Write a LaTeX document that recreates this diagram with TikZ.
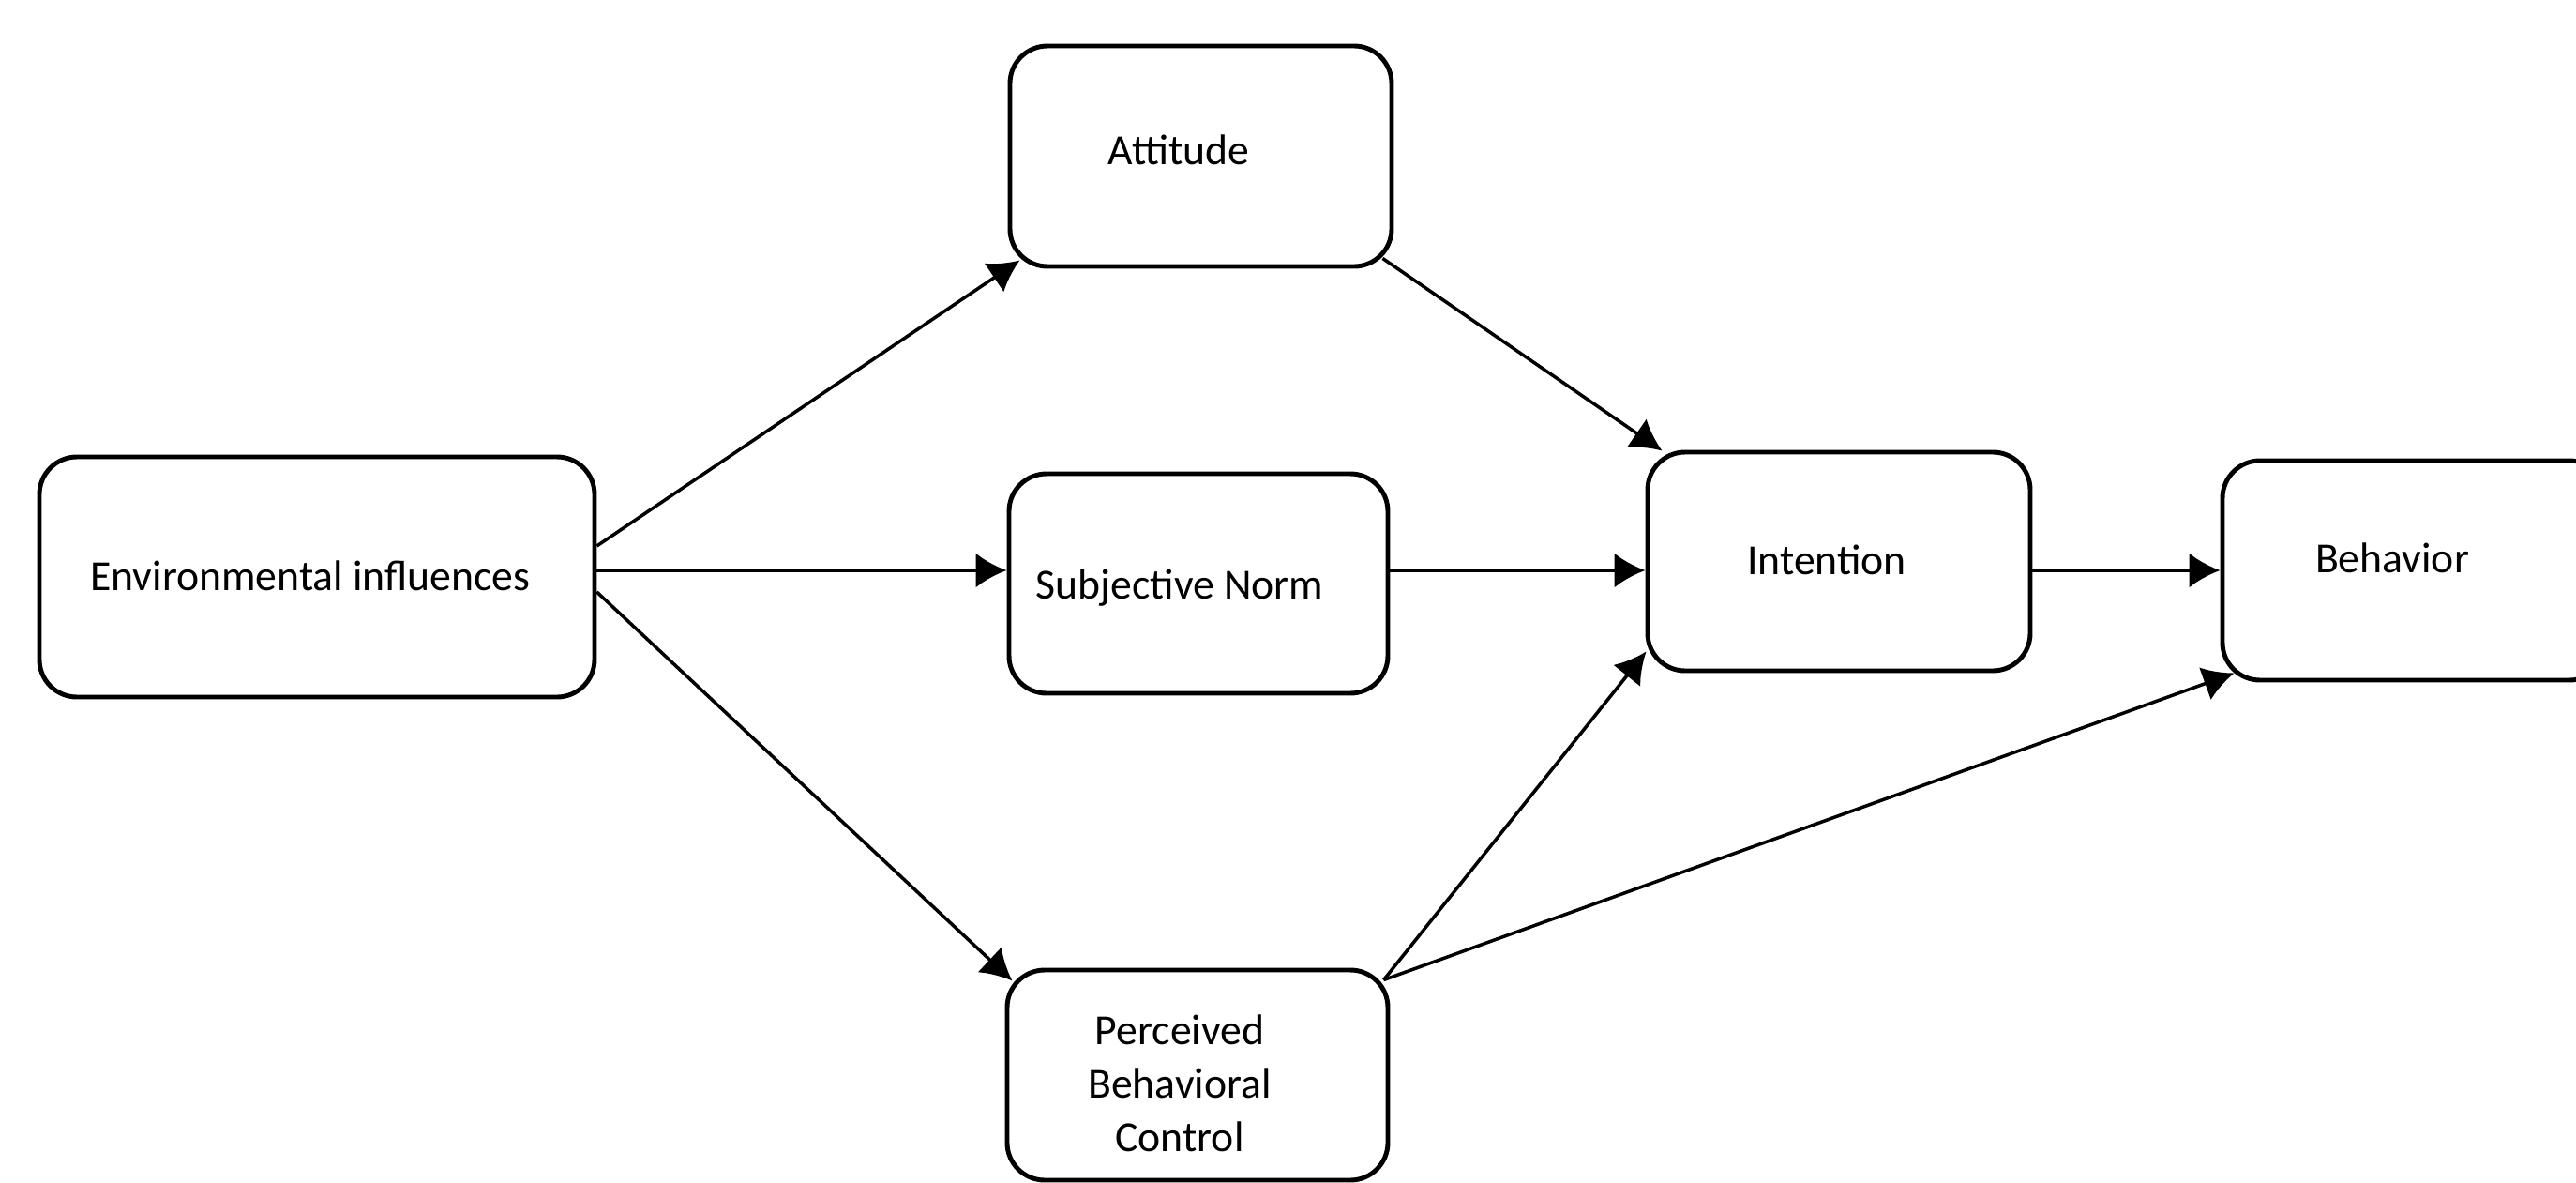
\documentclass[tikz,border=0pt]{standalone}
\usepackage{fontspec}
\setmainfont{Carlito}
\usetikzlibrary{arrows.meta,calc}
\begin{document}
\begin{tikzpicture}[
  box/.style={draw, line width=1.4pt, rounded corners=0.4cm, inner sep=0pt},
  lbl/.style={font=\fontsize{13}{16.2}\selectfont, align=center, inner sep=0pt},
  arr/.style={line width=1pt, -{Latex[length=3.3mm,width=3.7mm]}}
]
\useasboundingbox (0,0) rectangle (27.47,-12.61);
\clip (0,0) rectangle (27.47,-12.61);
\fill[white] (0,0) rectangle (27.47,-12.61);

% boxes
\node[box, minimum width=5.92cm, minimum height=2.56cm] (env) at (3.38,-6.15) {};
\node[box, minimum width=4.07cm, minimum height=2.35cm] (att) at (12.805,-1.665) {};
\node[box, minimum width=4.04cm, minimum height=2.34cm] (sn)  at (12.78,-6.22) {};
\node[box, minimum width=4.06cm, minimum height=2.24cm] (pbc) at (12.77,-11.46) {};
\node[box, minimum width=4.08cm, minimum height=2.33cm] (int) at (19.61,-5.985) {};
\node[box, minimum width=4.10cm, minimum height=2.34cm] (beh) at (25.75,-6.08) {};

% labels
\node[lbl] (env-t) at (3.31,-6.14) {Environmental influences};
\node[lbl] (att-t) at (12.57,-1.60) {Attitude};
\node[lbl] (sn-t)  at (12.58,-6.27) {Subjective Norm};
\node[lbl] (pbc-t) at (12.58,-11.55) {Perceived\\Behavioral\\Control};
\node[lbl] (int-t) at (19.48,-5.97) {Intention};
\node[lbl] (beh-t) at (25.51,-5.95) {Behavior};

% horizontal row of arrows
\coordinate (row) at (0,-6.08);

% connectors
\draw[arr] ($(env.east)+(0,0.33)$) -- ($(att.south west)+(0.13,0.09)$);
\draw[arr] (env.east |- row) -- (sn.west |- row);
\draw[arr] ($(env.east)+(0,-0.16)$) -- ($(pbc.north west)+(0.08,-0.14)$);
\draw[arr] ($(att.south east)+(-0.12,0.11)$) -- ($(int.north west)+(0.18,-0.01)$);
\draw[arr] (sn.east |- row) -- (int.west |- row);
\draw[arr] ($(pbc.north east)+(-0.07,-0.13)$) -- ($(int.south west)+(0.01,0.23)$);
\draw[arr] (int.east |- row) -- (beh.west |- row);
\draw[arr] ($(pbc.north east)+(-0.07,-0.13)$) -- ($(beh.south west)+(0.15,0.10)$);
\end{tikzpicture}
\end{document}
